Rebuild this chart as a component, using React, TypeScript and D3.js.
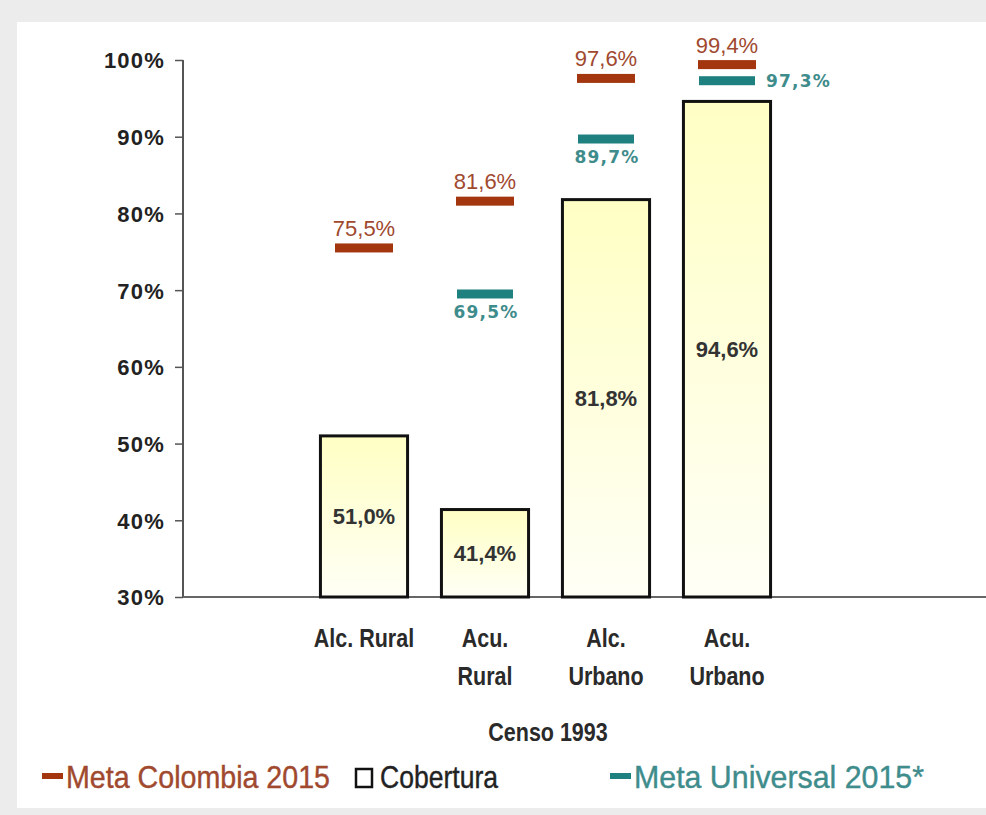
import { useEffect, useRef } from 'react'
import * as d3 from 'd3'

// categories (lines of each label) and values, all in percent
const categories = ['Alc. Rural', 'Acu. Rural', 'Alc. Urbano', 'Acu. Urbano']
const categoryLines = [['Alc. Rural'], ['Acu.', 'Rural'], ['Alc.', 'Urbano'], ['Acu.', 'Urbano']]
const cobertura = [51.0, 41.4, 81.8, 94.6]
const metaColombia = [75.5, 81.6, 97.6, 99.4]
const metaUniversal: (number | null)[] = [null, 69.5, 89.7, 97.3]
const yTicks = [30, 40, 50, 60, 70, 80, 90, 100]
const legendItems = ['Meta Colombia 2015', 'Cobertura', 'Meta Universal 2015*']

const W = 986
const H = 815
const BROWN = '#a3360f'
const TEAL = '#1f8080'
const BROWN_TXT = '#a0492f'
const TEAL_TXT = '#3f8c8c'
const fmt = (v: number) => v.toFixed(1).replace('.', ',') + '%'
const SANS = '"Liberation Sans", Arial, sans-serif'
const WIDE = '"DejaVu Sans", Verdana, sans-serif'

export default function App() {
  const ref = useRef<SVGSVGElement | null>(null)

  useEffect(() => {
    const svg = d3.select(ref.current)
    svg.selectAll('*').remove()

    // frame
    svg.append('rect').attr('width', W).attr('height', H).attr('fill', '#ececec')
    svg.append('rect').attr('x', 17).attr('y', 22).attr('width', W - 17).attr('height', 786).attr('fill', '#fff')

    const defs = svg.append('defs')
    const grad = defs.append('linearGradient').attr('id', 'barFill').attr('x1', 0).attr('y1', 0).attr('x2', 0).attr('y2', 1)
    grad.append('stop').attr('offset', '0%').attr('stop-color', '#ffffc4')
    grad.append('stop').attr('offset', '100%').attr('stop-color', '#fffff6')

    const axisX = 183
    const y = d3.scaleLinear().domain([30, 100]).range([597, 60])
    const x = d3.scaleBand<string>().domain(categories).range([303.5, 787.5]).paddingInner(0.28).paddingOuter(0.14)

    // y axis
    const yAxis = svg.append('g')
      .attr('transform', `translate(${axisX},0)`)
      .call(d3.axisLeft(y).tickValues(yTicks).tickSize(8).tickFormat((d) => `${d}%`))
    yAxis.select('.domain').attr('stroke', '#555').attr('stroke-width', 2).attr('d', `M0,${y(100)}V${y(30)}`)
    yAxis.selectAll('.tick line').attr('stroke', '#555').attr('stroke-width', 1.5)
    yAxis.selectAll('.tick text')
      .attr('x', -18)
      .attr('dy', '0.36em')
      .attr('font-family', SANS)
      .attr('font-weight', 'bold')
      .attr('font-size', 22)
      .attr('letter-spacing', 1.2)
      .attr('fill', '#222')

    // x baseline
    svg.append('line').attr('x1', axisX).attr('x2', W).attr('y1', y(30)).attr('y2', y(30))
      .attr('stroke', '#666').attr('stroke-width', 2)

    // bars
    const bw = x.bandwidth()
    svg.append('g').selectAll('rect').data(categories).join('rect')
      .attr('x', (d) => x(d)!)
      .attr('y', (d, i) => y(cobertura[i]))
      .attr('width', bw)
      .attr('height', (d, i) => y(30) - y(cobertura[i]))
      .attr('fill', 'url(#barFill)')
      .attr('stroke', '#111')
      .attr('stroke-width', 3)

    svg.append('g').selectAll('text').data(categories).join('text')
      .attr('x', (d) => x(d)! + bw / 2)
      .attr('y', (d, i) => (y(cobertura[i]) + y(30)) / 2 + 8)
      .attr('text-anchor', 'middle')
      .attr('font-family', SANS)
      .attr('font-weight', 'bold')
      .attr('font-size', 22)
      .attr('fill', '#333')
      .text((d, i) => fmt(cobertura[i]))

    // target markers
    const mw = 58
    categories.forEach((c, i) => {
      const cx = x(c)! + bw / 2
      svg.append('rect').attr('x', cx - mw / 2).attr('y', y(metaColombia[i]) - 4.5)
        .attr('width', mw).attr('height', 9).attr('fill', BROWN)
      svg.append('text').attr('x', cx).attr('y', y(metaColombia[i]) - 12)
        .attr('text-anchor', 'middle').attr('font-family', SANS).attr('font-size', 22)
        .attr('fill', BROWN_TXT).text(fmt(metaColombia[i]))

      const mu = metaUniversal[i]
      if (mu == null) return
      svg.append('rect').attr('x', cx - mw / 2 + 1).attr('y', y(mu) - 4.5)
        .attr('width', mw - 2).attr('height', 9).attr('fill', TEAL)
      const last = i === categories.length - 1
      svg.append('text')
        .attr('x', last ? cx + mw / 2 + 10 : cx + 1)
        .attr('y', last ? y(mu) + 6 : y(mu) + 24)
        .attr('text-anchor', last ? 'start' : 'middle')
        .attr('font-family', WIDE).attr('font-weight', 'bold').attr('font-size', 17)
        .attr('letter-spacing', 1.2)
        .attr('fill', TEAL_TXT).text(fmt(mu))
    })

    // category labels (condensed)
    categories.forEach((c, i) => {
      const g = svg.append('g').attr('transform', `translate(${x(c)! + bw / 2},647) scale(0.86,1)`)
      categoryLines[i].forEach((l, k) => {
        g.append('text').attr('x', 0).attr('y', k * 38)
          .attr('text-anchor', 'middle').attr('font-family', SANS).attr('font-weight', 'bold')
          .attr('font-size', 25).attr('fill', '#2a2a2a').text(l)
      })
    })

    svg.append('g').attr('transform', 'translate(548,741) scale(0.86,1)')
      .append('text').attr('text-anchor', 'middle').attr('font-family', SANS).attr('font-weight', 'bold')
      .attr('font-size', 25).attr('fill', '#2a2a2a').text('Censo 1993')

    // legend
    const ly = 776
    const legendText = (tx: number, len: number, fill: string, label: string) =>
      svg.append('text').attr('x', tx).attr('y', ly + 12).attr('font-family', SANS).attr('font-size', 32)
        .attr('textLength', len).attr('lengthAdjust', 'spacingAndGlyphs')
        .attr('fill', fill).attr('stroke', fill).attr('stroke-width', 0.4).text(label)
    svg.append('rect').attr('x', 42).attr('y', ly - 3).attr('width', 21).attr('height', 6).attr('fill', BROWN)
    legendText(66, 264, BROWN_TXT, legendItems[0])
    svg.append('rect').attr('x', 356).attr('y', ly - 7).attr('width', 16).attr('height', 18)
      .attr('fill', '#fff').attr('stroke', '#111').attr('stroke-width', 2.5)
    legendText(380, 118, '#222', legendItems[1])
    svg.append('rect').attr('x', 610).attr('y', ly - 3).attr('width', 21).attr('height', 6).attr('fill', TEAL)
    legendText(634, 290, TEAL_TXT, legendItems[2])
  }, [])

  return (
    <div style={{ position: 'absolute', left: 0, top: 0 }}>
      <svg ref={ref} width={W} height={H} style={{ display: 'block' }} />
    </div>
  )
}
